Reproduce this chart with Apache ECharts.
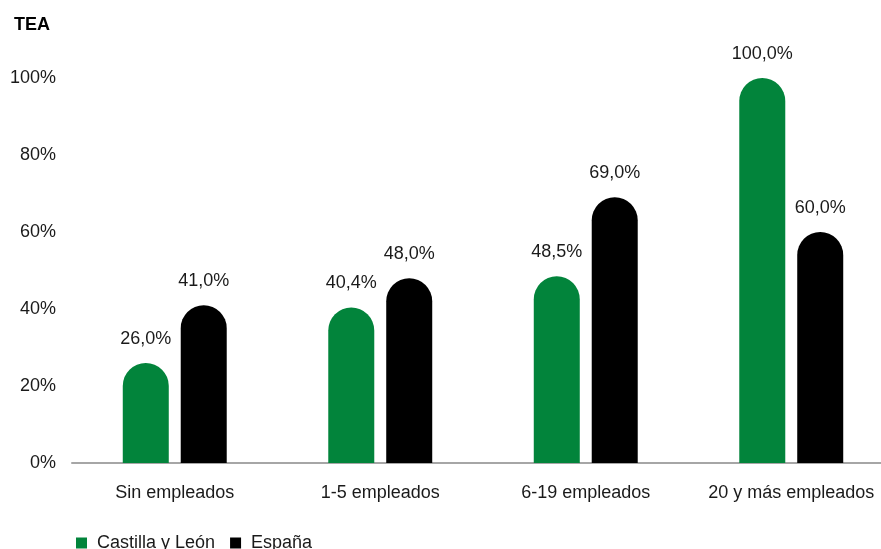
<!DOCTYPE html>
<html><head><meta charset="utf-8">
<script src="https://cdn.jsdelivr.net/npm/echarts@6/dist/echarts.min.js"></script>
<style>html,body{margin:0;padding:0;background:#fff}#c{width:881px;height:549px}</style>
</head><body><div id="c"></div>
<script>
const categories = ['Sin empleados', '1-5 empleados', '6-19 empleados', '20 y más empleados'];
const seriesNames = ['Castilla y León', 'España'];
const castillaLeon = [26.0, 40.4, 48.5, 100.0];
const espana = [41.0, 48.0, 69.0, 60.0];
const yTicks = [0, 20, 40, 60, 80, 100];
const colors = ['#02843b', '#000000'];

const font = 'Liberation Sans, Arial, sans-serif';
const fmt = v => v.toFixed(1).replace('.', ',') + '%';
const chart = echarts.init(document.getElementById('c'), null, {renderer: 'canvas'});
function mk(name, data, color) {
  return {
    name, type: 'bar', data,
    barWidth: 46, barGap: '26%',
    itemStyle: {color, borderRadius: [23, 23, 0, 0]},
    label: {show: true, position: 'top', distance: 15, formatter: p => fmt(p.value),
      color: '#1a1a1a', fontSize: 18, fontFamily: font}
  };
}
chart.setOption({
  animation: false,
  title: {text: 'TEA', left: 9, top: 11, textStyle: {fontSize: 18, fontWeight: 900, color: '#000', fontFamily: font}},
  legend: {left: 71, top: 529, itemWidth: 11, itemHeight: 11, itemGap: 15, icon: 'rect',
    textStyle: {fontSize: 18, color: '#1a1a1a', fontFamily: font, padding: [0, 0, 0, 5]}, data: seriesNames},
  grid: {left: 72, width: 822, top: 78, bottom: 86, containLabel: false, outerBoundsMode: 'none'},
  xAxis: {type: 'category', data: categories,
    axisLine: {lineStyle: {color: '#a6a6a6', width: 2}}, axisTick: {show: false},
    axisLabel: {interval: 0, fontSize: 18, color: '#1a1a1a', fontFamily: font, margin: 21}},
  yAxis: {type: 'value', min: 0, max: 100, interval: 20,
    splitLine: {show: false}, axisLine: {show: false}, axisTick: {show: false},
    axisLabel: {formatter: v => yTicks.includes(v) ? v + '%' : '', fontSize: 18, color: '#1a1a1a', fontFamily: font, margin: 16}},
  series: [mk(seriesNames[0], castillaLeon, colors[0]), mk(seriesNames[1], espana, colors[1])]
});
</script></body></html>
